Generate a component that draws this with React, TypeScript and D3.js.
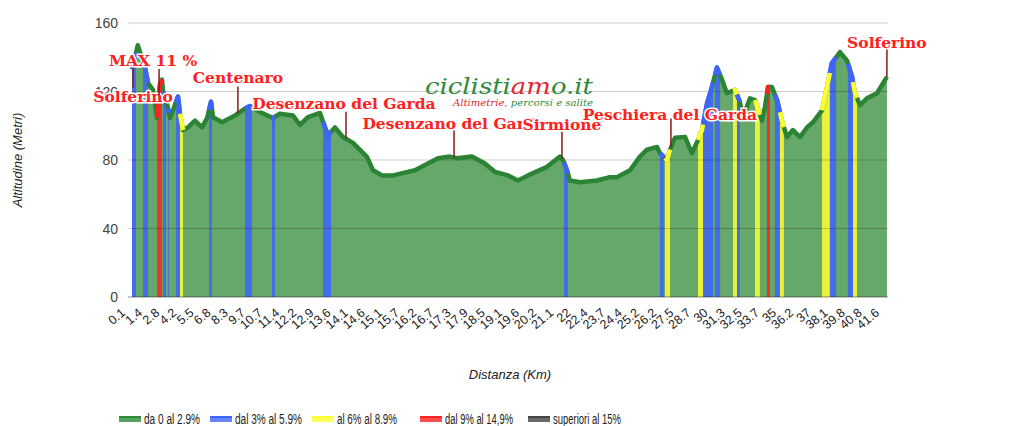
import * as d3 from 'd3'

// profilo altimetrico (km, metri)
const distanceKm = [0, 0.32, 0.72, 0.89, 1.16, 1.39, 1.55, 1.66, 1.72, 1.94, 2.11, 2.27, 2.55, 2.66, 2.83, 3.1, 3.49, 3.88, 4.16, 4.38, 4.49, 4.99, 5.71, 6.26, 6.54, 7.09, 7.81, 8.2, 8.92, 9.31, 9.75, 10.42, 10.7, 10.86, 11.25, 11.69, 12.25, 13.02, 13.36, 13.86, 14.47, 15.68, 16.96, 17.62, 18.01, 18.84, 19.56, 20.12, 20.84, 21.39, 21.95, 23.0, 23.72, 23.89, 24.11, 24.27, 24.83, 25.77, 26.49, 26.88, 27.6, 28.15, 28.54, 29.1, 29.26, 29.65, 29.82, 30.09, 30.65, 31.03, 31.37, 31.59, 31.87, 32.14, 32.42, 32.7, 32.97, 33.42, 33.69, 33.86, 34.25, 34.53, 34.91, 35.08, 35.25, 35.47, 35.75, 36.02, 36.3, 36.63, 37.02, 37.41, 37.74, 38.24, 38.52, 38.79, 39.24, 39.63, 39.91, 40.07, 40.35, 40.73, 41.29, 41.84]
const altitudes = [133, 147, 134, 125, 121, 104.5, 124, 127, 120, 113, 104.5, 109, 117, 107, 97.5, 99, 103, 99, 104.5, 114, 105, 102, 106, 110, 111.5, 108, 104.5, 107, 106, 100.5, 105, 107.5, 99, 94.6, 99, 93.4, 90, 81.8, 74, 71, 71, 74, 81, 82, 81, 82, 78, 73, 71, 68, 71, 76, 82, 80, 74, 68, 67, 68, 70, 70, 74, 82, 86, 87.6, 84, 80, 86, 93, 93.5, 84, 91.7, 97.5, 113, 122.6, 134, 127, 119, 121, 114, 105, 116, 115, 103, 111, 122.6, 122.6, 115, 103, 93.4, 97.5, 93.4, 99, 102, 109, 122.6, 136.6, 143, 138, 128.5, 119, 112, 116, 119, 128.5]

// tratti con pendenza (1 = 3-5.9%, 2 = 6-8.9%, 3 = 9-14.9%)
const segStartKm = [0, 0.61, 1.39, 1.72, 2.0, 2.44, 2.66, 4.27, 6.26, 7.76, 10.59, 23.94, 29.26, 29.54, 31.37, 31.65, 32.31, 33.31, 33.53, 34.53, 35.19, 35.63, 35.91, 38.24, 38.68, 39.68, 39.96]
const segEndKm = [0.22, 0.89, 1.66, 1.88, 2.05, 2.66, 2.83, 4.43, 6.65, 7.93, 11.03, 24.16, 29.48, 29.82, 31.65, 32.2, 32.59, 33.53, 33.69, 34.8, 35.36, 35.91, 36.13, 38.68, 39.02, 39.96, 40.18]
const segClass = [1, 1, 3, 1, 1, 1, 2, 1, 1, 1, 1, 1, 1, 2, 2, 1, 1, 2, 1, 2, 3, 1, 2, 2, 1, 1, 2]

const xTickLabels = ['0.1', '1.4', '2.8', '4.2', '5.5', '6.8', '8.3', '9.7', '10.7', '11.4', '12.2', '12.9', '13.6', '14.1', '14.6', '15.1', '15.7', '16.2', '16.7', '17.3', '17.9', '18.5', '19.1', '19.6', '20.2', '21.1', '22', '22.4', '23.7', '24.4', '25.2', '26.2', '27.5', '28.7', '30', '31.3', '32.5', '33.7', '35', '36.2', '37', '38.1', '39.8', '40.8', '41.6']
const yTicks = [0, 40, 80, 120, 160]

const annoLabels = ['Solferino', 'MAX 11 %', 'Centenaro', 'Desenzano del Garda', 'Desenzano del Garda', 'Sirmione', 'Peschiera del Garda', 'Solferino']
const annoKm = [0.06, 1.5, 5.87, 11.86, 17.85, 23.83, 29.87, 41.84]

const legendLabels = ['da 0 al 2.9%', 'dal 3% al 5.9%', 'al 6% al 8.9%', 'dal 9% al 14,9%', 'superiori al 15%']
const classColors = ['#2e8b3a', '#3f63ff', '#ffff33', '#ff2222', '#444444']

export default function App() {
  const W = 1026
  const H = 426
  const x = d3.scaleLinear().domain([0, 41.9]).range([132, 888])
  const y = d3.scaleLinear().domain([0, 160]).range([297, 23])
  const xt = d3.scalePoint().domain(xTickLabels).range([132, 886])
  const altAt = d3.scaleLinear().domain(distanceKm).range(altitudes).clamp(true)

  const pts = distanceKm.map((k, i) => ({ k, a: altitudes[i] }))
  const line = d3.line().x((d) => x(d.k)).y((d) => y(d.a))
  const area = d3.area().x((d) => x(d.k)).y0(y(0)).y1((d) => y(d.a))

  const segs = segStartKm.map((s, i) => {
    const e = segEndKm[i]
    const p = [s, ...distanceKm.filter((d) => d > s && d < e), e].map((k) => ({ k, a: altAt(k) }))
    return { p, c: classColors[segClass[i]] }
  })

  // stanghette annotazioni: lunghezza e spostamento etichetta
  const stemLen = [-23, 26, 27, 27, 27, 27, 29, 29]
  const labelDy = [37, -3, -3, -3, -2, -2, 1, 0]
  const labelDx = [0, -6, 0, -2, 0, 0, -1, 0]

  const legendX = [119, 210, 312, 420, 528]
  const legendW = [56, 67, 60, 68, 68]

  return (
    <svg width={W} height={H} style={{ position: 'absolute', left: 0, top: 0, background: '#fff' }}>
      <path d={area(pts)} fill="#65a86a" />
      {segs.map((s, i) => (
        <path key={'st' + i} d={area(s.p)} fill={s.c} opacity={0.85} />
      ))}
      {yTicks.map((t) => (
        <line key={'g' + t} x1={128} x2={888} y1={y(t)} y2={y(t)} stroke="#000" strokeOpacity={t === 0 ? 0.45 : 0.2} />
      ))}
      <path d={line(pts)} fill="none" stroke="#2a8434" strokeWidth={4.5} strokeLinejoin="round" />
      {segs.map((s, i) => (
        <path key={'sl' + i} d={line(s.p)} fill="none" stroke={s.c} strokeWidth={4.5} strokeLinejoin="round" />
      ))}

      {yTicks.map((t) => (
        <text key={'yl' + t} x={118} y={y(t)} dy="0.36em" textAnchor="end" fontFamily="Liberation Sans, Arial" fontSize={14} fill="#444">
          {t}
        </text>
      ))}
      {xTickLabels.map((l) => (
        <text
          key={'xl' + l}
          transform={`translate(${xt(l) - 6},314) rotate(-40)`}
          textAnchor="end"
          fontFamily="Liberation Sans, Arial"
          fontSize={12.5}
          fill="#222"
        >
          {l}
        </text>
      ))}
      <text x={510} y={379} textAnchor="middle" fontFamily="Liberation Sans, Arial" fontStyle="italic" fontSize={13} fill="#222">
        Distanza (Km)
      </text>
      <text transform="translate(22,160) rotate(-90)" textAnchor="middle" fontFamily="Liberation Sans, Arial" fontStyle="italic" fontSize={13} fill="#222">
        Altitudine (Metri)
      </text>

      {/* logo */}
      <text x={425} y={94} fontFamily="DejaVu Serif" fontStyle="italic" fontSize={22} textLength={168} lengthAdjust="spacingAndGlyphs">
        <tspan fill="#2e8b3a">ciclisti</tspan>
        <tspan fill="#e0282f">am</tspan>
        <tspan fill="#2e8b3a">o.it</tspan>
      </text>
      <text x={453} y={106} fontFamily="DejaVu Serif" fontStyle="italic" fontSize={10} textLength={140} lengthAdjust="spacingAndGlyphs">
        <tspan fill="#e0282f">Altimetrie, </tspan>
        <tspan fill="#2e8b3a">percorsi e salite</tspan>
      </text>

      {annoKm.map((k, i) => {
        const py = y(altAt(k))
        const top = py - stemLen[i]
        const ly = Math.min(py, top) + labelDy[i]
        return (
          <g key={'a' + i}>
            <line x1={x(k)} x2={x(k)} y1={py} y2={top} stroke="#8b1a1a" strokeWidth={1.5} />
            <text
              x={x(k) + labelDx[i]}
              y={ly}
              textAnchor="middle"
              fontFamily="DejaVu Serif"
              fontWeight="bold"
              fontSize={15.5}
              fill="#ff2020"
              stroke="#fff"
              strokeWidth={3}
              paintOrder="stroke"
            >
              {annoLabels[i]}
            </text>
          </g>
        )
      })}

      {legendLabels.map((l, i) => (
        <g key={'lg' + i}>
          <rect x={legendX[i]} y={416} width={22} height={6} fill={classColors[i]} opacity={0.8} />
          <rect x={legendX[i]} y={416} width={22} height={2} fill={classColors[i]} />
          <text
            x={legendX[i] + 25}
            y={424}
            fontFamily="Liberation Sans, Arial"
            fontSize={14}
            fill="#222"
            textLength={legendW[i]}
            lengthAdjust="spacingAndGlyphs"
          >
            {l}
          </text>
        </g>
      ))}
    </svg>
  )
}
